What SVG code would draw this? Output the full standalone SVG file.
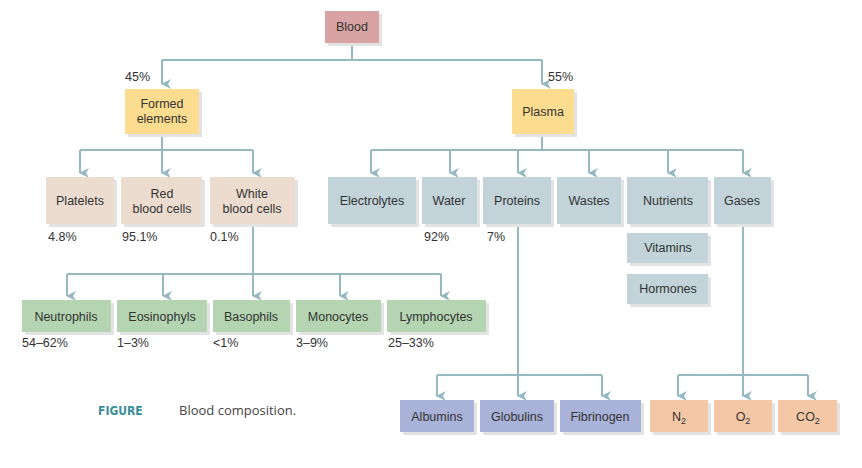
<svg xmlns="http://www.w3.org/2000/svg" width="862" height="468" viewBox="0 0 862 468">
<style>
text{font-family:"Liberation Sans",Arial,sans-serif;font-size:12.5px;fill:#333}
.c{text-anchor:middle}
.sh{fill:#e3e3e3}
.l{fill:none;stroke:#96b9c1;stroke-width:2}
.blood{fill:#d9a3a3}.fe{fill:#fcdc8e}.cell{fill:#ecdccf}.pl{fill:#c2d4da}.wbc{fill:#b5d5b2}.pr{fill:#a9b2d9}.gas{fill:#f4c7a6}
</style>
<defs><marker id="a" markerWidth="10" markerHeight="10" refX="5" refY="9" orient="auto" markerUnits="userSpaceOnUse" viewBox="0 0 10 10"><path d="M0,0 L5,3 L10,0 L5,10 Z" fill="#96b9c1"/></marker></defs>
<g id="connectors">
<path class="l" d="M352,43V60M162,60H542"/><path class="l" d="M162,60V84" marker-end="url(#a)"/><path class="l" d="M542,60V84" marker-end="url(#a)"/>
<path class="l" d="M162,134V150M80,150H253"/><path class="l" d="M80,150V173" marker-end="url(#a)"/><path class="l" d="M162,150V173" marker-end="url(#a)"/><path class="l" d="M253,150V173" marker-end="url(#a)"/>
<path class="l" d="M542,134V150M371,150H743"/><path class="l" d="M371,150V173" marker-end="url(#a)"/><path class="l" d="M450,150V173" marker-end="url(#a)"/><path class="l" d="M518,150V173" marker-end="url(#a)"/><path class="l" d="M589,150V173" marker-end="url(#a)"/><path class="l" d="M668,150V173" marker-end="url(#a)"/><path class="l" d="M743,150V173" marker-end="url(#a)"/>
<path class="l" d="M253,224V274M67,274H441"/><path class="l" d="M67,274V296" marker-end="url(#a)"/><path class="l" d="M163,274V296" marker-end="url(#a)"/><path class="l" d="M253,274V296" marker-end="url(#a)"/><path class="l" d="M340,274V296" marker-end="url(#a)"/><path class="l" d="M441,274V296" marker-end="url(#a)"/>
<path class="l" d="M518,224V375M437,375H602"/><path class="l" d="M437,375V396" marker-end="url(#a)"/><path class="l" d="M518,375V396" marker-end="url(#a)"/><path class="l" d="M602,375V396" marker-end="url(#a)"/>
<path class="l" d="M743,224V375M678,375H808"/><path class="l" d="M678,375V396" marker-end="url(#a)"/><path class="l" d="M743,375V396" marker-end="url(#a)"/><path class="l" d="M808,375V396" marker-end="url(#a)"/>
</g>
<g id="blood"><rect class="sh" x="328" y="14" width="54" height="32"/><rect class="blood" x="325" y="11" width="54" height="32"/><text class="c" x="352" y="31">Blood</text></g>
<text x="125" y="81">45%</text><text x="548" y="81">55%</text>
<g id="formed"><rect class="sh" x="128" y="92" width="74" height="45"/><rect class="fe" x="125" y="89" width="74" height="45"/><text class="c" x="162" y="108">Formed</text><text class="c" x="162" y="123">elements</text></g>
<g id="plasma"><rect class="sh" x="515" y="92" width="62" height="45"/><rect class="fe" x="512" y="89" width="62" height="45"/><text class="c" x="543" y="116">Plasma</text></g>
<g id="platelets"><rect class="sh" x="49" y="180" width="68" height="47"/><rect class="cell" x="46" y="177" width="68" height="47"/><text class="c" x="80" y="205">Platelets</text></g>
<g id="rbc"><rect class="sh" x="124" y="180" width="81" height="47"/><rect class="cell" x="121" y="177" width="81" height="47"/><text class="c" x="162" y="198">Red</text><text class="c" x="162" y="213">blood cells</text></g>
<g id="wbc"><rect class="sh" x="213" y="180" width="85" height="47"/><rect class="cell" x="210" y="177" width="85" height="47"/><text class="c" x="252" y="198">White</text><text class="c" x="252" y="213">blood cells</text></g>
<text x="48" y="241">4.8%</text><text x="122" y="241">95.1%</text><text x="210" y="241">0.1%</text>
<g id="electrolytes"><rect class="sh" x="331" y="180" width="88" height="47"/><rect class="pl" x="328" y="177" width="88" height="47"/><text class="c" x="372" y="205">Electrolytes</text></g>
<g id="water"><rect class="sh" x="425" y="180" width="55" height="47"/><rect class="pl" x="422" y="177" width="55" height="47"/><text class="c" x="449" y="205">Water</text></g>
<g id="proteins"><rect class="sh" x="486" y="180" width="68" height="47"/><rect class="pl" x="483" y="177" width="68" height="47"/><text class="c" x="517" y="205">Proteins</text></g>
<g id="wastes"><rect class="sh" x="560" y="180" width="64" height="47"/><rect class="pl" x="557" y="177" width="64" height="47"/><text class="c" x="589" y="205">Wastes</text></g>
<g id="nutrients"><rect class="sh" x="630" y="180" width="81" height="47"/><rect class="pl" x="627" y="177" width="81" height="47"/><text class="c" x="668" y="205">Nutrients</text></g>
<g id="gases"><rect class="sh" x="717" y="180" width="57" height="47"/><rect class="pl" x="714" y="177" width="57" height="47"/><text class="c" x="742" y="205">Gases</text></g>
<text x="424" y="241">92%</text><text x="487" y="241">7%</text>
<g id="vitamins"><rect class="sh" x="630" y="236" width="81" height="30"/><rect class="pl" x="627" y="233" width="81" height="30"/><text class="c" x="668" y="252">Vitamins</text></g>
<g id="hormones"><rect class="sh" x="630" y="277" width="81" height="30"/><rect class="pl" x="627" y="274" width="81" height="30"/><text class="c" x="668" y="293">Hormones</text></g>
<g id="neutrophils"><rect class="sh" x="25" y="303" width="89" height="32"/><rect class="wbc" x="22" y="300" width="89" height="32"/><text class="c" x="66" y="321">Neutrophils</text></g>
<g id="eosinophyls"><rect class="sh" x="120" y="303" width="90" height="32"/><rect class="wbc" x="117" y="300" width="90" height="32"/><text class="c" x="162" y="321">Eosinophyls</text></g>
<g id="basophils"><rect class="sh" x="216" y="303" width="77" height="32"/><rect class="wbc" x="213" y="300" width="77" height="32"/><text class="c" x="251" y="321">Basophils</text></g>
<g id="monocytes"><rect class="sh" x="299" y="303" width="85" height="32"/><rect class="wbc" x="296" y="300" width="85" height="32"/><text class="c" x="338" y="321">Monocytes</text></g>
<g id="lymphocytes"><rect class="sh" x="390" y="303" width="99" height="32"/><rect class="wbc" x="387" y="300" width="99" height="32"/><text class="c" x="436" y="321">Lymphocytes</text></g>
<text x="22" y="347">54–62%</text><text x="117" y="347">1–3%</text><text x="213" y="347">&lt;1%</text><text x="296" y="347">3–9%</text><text x="388" y="347">25–33%</text>
<g id="albumins"><rect class="sh" x="403" y="403" width="74" height="32"/><rect class="pr" x="400" y="400" width="74" height="32"/><text class="c" x="437" y="421">Albumins</text></g>
<g id="globulins"><rect class="sh" x="483" y="403" width="74" height="32"/><rect class="pr" x="480" y="400" width="74" height="32"/><text class="c" x="517" y="421">Globulins</text></g>
<g id="fibrinogen"><rect class="sh" x="563" y="403" width="81" height="32"/><rect class="pr" x="560" y="400" width="81" height="32"/><text class="c" x="600" y="421">Fibrinogen</text></g>
<g id="n2"><rect class="sh" x="653" y="403" width="58" height="32"/><rect class="gas" x="650" y="400" width="58" height="32"/><text class="c" x="679" y="421">N<tspan font-size="9" dy="3">2</tspan></text></g>
<g id="o2"><rect class="sh" x="717" y="403" width="58" height="32"/><rect class="gas" x="714" y="400" width="58" height="32"/><text class="c" x="743" y="421">O<tspan font-size="9" dy="3">2</tspan></text></g>
<g id="co2"><rect class="sh" x="781" y="403" width="59" height="32"/><rect class="gas" x="778" y="400" width="59" height="32"/><text class="c" x="808" y="421">CO<tspan font-size="9" dy="3">2</tspan></text></g>
<text x="98" y="415" style="font-family:'DejaVu Sans Condensed','Liberation Sans Narrow',sans-serif;font-weight:bold;font-size:12px;fill:#3a8f99">FIGURE</text>
<text x="179" y="415" style="font-family:'Open Sans',sans-serif;font-size:13px;fill:#444">Blood composition.</text>
</svg>
